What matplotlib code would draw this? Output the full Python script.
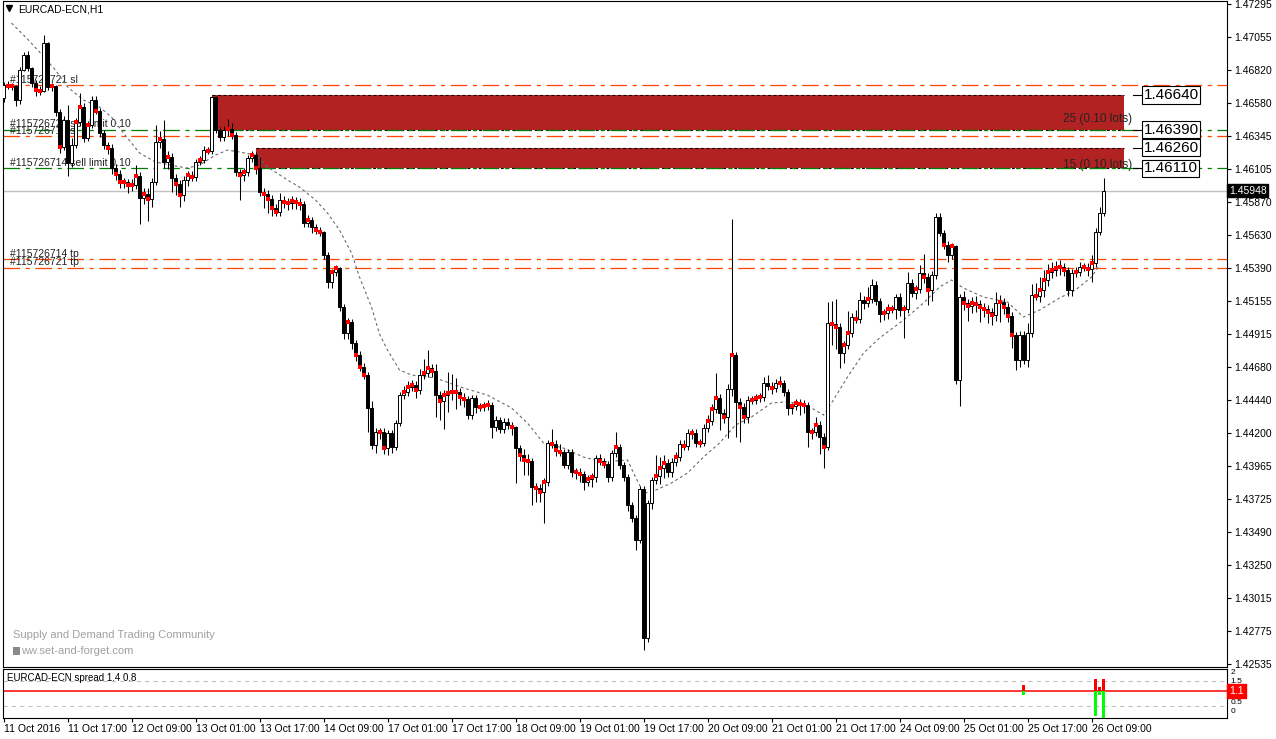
import matplotlib
matplotlib.use("Agg")
import matplotlib.pyplot as plt
from matplotlib.patches import Rectangle

plt.rcParams['font.family'] = ['Liberation Sans', 'DejaVu Sans']
plt.rcParams['lines.scale_dashes'] = False

# ---- values (EURCAD H1, one entry per bar) ----
first_open = 1.46617
closes = [
    1.46711, 1.46704, 1.46704, 1.46603, 1.46819, 1.46927, 1.46834, 1.46725, 1.46675, 1.46668, 1.47014, 1.46697, 1.46704, 1.46516, 1.46264, 1.46459,
    1.46148, 1.46278, 1.46444, 1.46552, 1.46329, 1.46423, 1.46603, 1.46523, 1.46365, 1.46278, 1.46257, 1.46112, 1.46069, 1.46011, 1.46011, 1.45990,
    1.45990, 1.46055, 1.45896, 1.45925, 1.45889, 1.46011, 1.46300, 1.46322, 1.46156, 1.46192, 1.46040, 1.45997, 1.45918, 1.46026, 1.46062, 1.46047,
    1.46156, 1.46170, 1.46242, 1.46235, 1.46624, 1.46386, 1.46336, 1.46386, 1.46394, 1.46350, 1.46083, 1.46062, 1.46083, 1.46184, 1.46206, 1.46112,
    1.45939, 1.45925, 1.45889, 1.45824, 1.45795, 1.45882, 1.45867, 1.45860, 1.45874, 1.45867, 1.45853, 1.45716, 1.45737, 1.45687, 1.45665, 1.45651,
    1.45485, 1.45290, 1.45362, 1.45391, 1.45110, 1.44922, 1.45001, 1.44850, 1.44764, 1.44677, 1.44620, 1.44382, 1.44115, 1.44208, 1.44208, 1.44093,
    1.44201, 1.44100, 1.44273, 1.44475, 1.44497, 1.44533, 1.44547, 1.44511, 1.44620, 1.44634, 1.44670, 1.44648, 1.44475, 1.44432, 1.44475, 1.44490,
    1.44497, 1.44497, 1.44461, 1.44447, 1.44331, 1.44454, 1.44389, 1.44389, 1.44396, 1.44403, 1.44245, 1.44296, 1.44230, 1.44281, 1.44259, 1.44245,
    1.44093, 1.44043, 1.44007, 1.43999, 1.43812, 1.43805, 1.43776, 1.43848, 1.44129, 1.44122, 1.44079, 1.44064, 1.43971, 1.44064, 1.43921, 1.43921,
    1.43906, 1.43848, 1.43870, 1.43885, 1.44021, 1.43999, 1.43978, 1.43885, 1.44057, 1.44100, 1.43971, 1.43885, 1.43682, 1.43588, 1.43429, 1.43797,
    1.42723, 1.43696, 1.43862, 1.43891, 1.43949, 1.43985, 1.43921, 1.43992, 1.44028, 1.44122, 1.44108, 1.44201, 1.44201, 1.44129, 1.44129, 1.44237,
    1.44288, 1.44374, 1.44454, 1.44345, 1.44317, 1.44518, 1.44764, 1.44425, 1.44389, 1.44317, 1.44439, 1.44439, 1.44454, 1.44461, 1.44562, 1.44540,
    1.44526, 1.44562, 1.44562, 1.44497, 1.44382, 1.44396, 1.44418, 1.44410, 1.44403, 1.44208, 1.44208, 1.44259, 1.44172, 1.44100, 1.44994, 1.44987,
    1.44966, 1.44778, 1.44836, 1.44922, 1.45038, 1.45023, 1.45160, 1.45139, 1.45168, 1.45269, 1.45153, 1.45059, 1.45067, 1.45095, 1.45095, 1.45182,
    1.45088, 1.45095, 1.45283, 1.45211, 1.45240, 1.45355, 1.45326, 1.45233, 1.45341, 1.45759, 1.45644, 1.45557, 1.45485, 1.45550, 1.44584, 1.45182,
    1.45139, 1.45117, 1.45139, 1.45132, 1.45110, 1.45095, 1.45074, 1.45052, 1.45139, 1.45146, 1.45110, 1.45045, 1.44908, 1.44728, 1.44908, 1.44728,
    1.44922, 1.45196, 1.45189, 1.45233, 1.45305, 1.45362, 1.45377, 1.45391, 1.45398, 1.45377, 1.45233, 1.45355, 1.45362, 1.45398, 1.45398, 1.45384,
    1.45427, 1.45651, 1.45788, 1.45948,
]
# wick lengths beyond the body, in pips
wick_up = [
    2, 3, 2, 1, 2, 2, 3, 1, 2, 3, 6, 1, 2, 1, 2, 3,
    11, 5, 3, 10, 3, 3, 3, 3, 2, 2, 2, 3, 3, 3, 3, 2,
    4, 8, 3, 4, 4, 3, 12, 6, 14, 4, 3, 3, 3, 3, 3, 3,
    2, 3, 3, 2, 1, 1, 2, 3, 7, 4, 2, 2, 3, 2, 3, 2,
    8, 3, 3, 3, 3, 5, 3, 3, 4, 3, 3, 2, 4, 2, 2, 2,
    1, 2, 2, 2, 1, 2, 3, 2, 2, 3, 3, 2, 5, 3, 3, 3,
    2, 2, 2, 2, 4, 4, 4, 3, 4, 10, 13, 3, 5, 3, 4, 15,
    13, 10, 3, 3, 2, 2, 2, 3, 3, 4, 2, 3, 2, 3, 3, 2,
    1, 2, 4, 4, 2, 3, 3, 3, 2, 10, 3, 4, 2, 2, 2, 3,
    3, 2, 3, 3, 2, 3, 2, 2, 2, 11, 2, 2, 2, 2, 2, 2,
    2, 2, 2, 15, 8, 6, 3, 3, 4, 3, 3, 3, 3, 3, 3, 3,
    4, 4, 18, 3, 3, 4, 98, 2, 3, 3, 3, 3, 3, 3, 4, 6,
    3, 3, 5, 2, 2, 2, 3, 3, 3, 2, 3, 6, 3, 3, 15, 16,
    18, 3, 3, 16, 3, 5, 6, 3, 9, 4, 3, 2, 3, 4, 3, 2,
    3, 3, 8, 3, 3, 6, 14, 3, 3, 3, 3, 2, 3, 2, 1, 2,
    4, 3, 4, 5, 3, 3, 3, 3, 8, 5, 3, 3, 3, 2, 3, 3,
    7, 8, 9, 9, 7, 6, 6, 5, 5, 3, 2, 3, 4, 4, 3, 3,
    6, 3, 4, 9,
]
wick_dn = [
    3, 2, 3, 4, 3, 1, 2, 3, 4, 3, 1, 2, 3, 3, 4, 2,
    9, 3, 2, 3, 3, 2, 2, 2, 3, 3, 4, 4, 4, 4, 4, 6,
    4, 3, 19, 4, 16, 6, 2, 4, 4, 5, 10, 8, 9, 4, 4, 3,
    3, 2, 2, 2, 2, 2, 3, 3, 4, 3, 3, 18, 4, 3, 3, 4,
    3, 10, 10, 6, 3, 3, 4, 5, 4, 5, 4, 3, 3, 4, 3, 3,
    3, 4, 4, 3, 3, 4, 4, 4, 4, 3, 3, 17, 3, 6, 5, 4,
    5, 4, 2, 2, 3, 3, 3, 6, 3, 3, 3, 4, 16, 14, 20, 12,
    5, 12, 6, 6, 3, 3, 4, 3, 3, 3, 8, 3, 3, 3, 3, 6,
    25, 4, 11, 10, 13, 10, 7, 22, 3, 3, 4, 3, 2, 3, 4, 5,
    6, 6, 3, 6, 4, 3, 3, 4, 3, 3, 3, 3, 4, 3, 7, 2,
    9, 3, 4, 3, 6, 7, 4, 4, 3, 3, 3, 3, 4, 3, 3, 2,
    3, 3, 3, 12, 4, 15, 5, 25, 25, 4, 4, 3, 3, 3, 3, 3,
    4, 3, 3, 3, 5, 4, 3, 8, 6, 11, 5, 3, 12, 15, 2, 15,
    16, 11, 7, 3, 3, 3, 3, 4, 3, 3, 3, 6, 4, 4, 3, 7,
    4, 20, 3, 3, 4, 3, 4, 11, 8, 3, 2, 3, 5, 3, 3, 19,
    5, 11, 5, 6, 11, 6, 8, 7, 4, 14, 5, 4, 9, 7, 5, 3,
    5, 3, 3, 4, 5, 4, 4, 4, 5, 4, 4, 4, 3, 3, 3, 5,
    9, 3, 2, 2,
]
# bars carrying the small red marker
dot_bars = [1, 2, 8, 9, 12, 14, 18, 19, 21, 23, 26, 28, 29, 30, 31, 32, 33, 35, 36, 39, 41, 43, 44, 46, 47, 49,
            51, 56, 57, 59, 60, 62, 63, 65, 66, 67, 68, 70, 71, 72, 73, 74, 76, 78, 79, 82, 83, 86, 88, 89, 90,
            94, 95, 100, 101, 102, 103, 105, 106, 107, 109, 110, 111, 112, 113, 114, 115, 119, 120, 121, 127,
            129, 130, 131, 133, 134, 135, 137, 138, 139, 143, 144, 146, 147, 149, 150, 153, 163, 164, 165, 168,
            170, 172, 174, 176, 177, 178, 180, 182, 184, 185, 187, 188, 189, 192, 194, 197, 198, 199, 200, 202,
            203, 205, 207, 208, 210, 211, 213, 216, 220, 221, 222, 225, 228, 230, 231, 235, 237, 240, 241, 242,
            243, 244, 245, 246, 247, 249, 250, 251, 252, 258, 259, 260, 261, 262, 263, 264, 265, 268, 270, 271, 272]
# moving average (grey dotted), sampled along the chart
ma_bars = [2, 6, 9, 13, 16, 20, 24, 27, 30, 34, 38, 43, 46, 49, 53, 56, 59, 63, 66, 71,
           74, 78, 81, 84, 87, 89, 92, 94, 96, 99, 102, 108, 115, 121, 127, 131, 135, 140, 145, 150,
           156, 158, 160, 162, 167, 171, 175, 179, 183, 187, 192, 195, 198, 202, 205, 207, 211, 215, 219, 225,
           230, 234, 237, 240, 245, 251, 255, 259, 264, 268, 272, 274]
ma_vals = [1.47158, 1.47043, 1.46949, 1.46819, 1.46697, 1.46603, 1.46552, 1.46480, 1.46365, 1.46221,
           1.46156, 1.46127, 1.46112, 1.46134, 1.46206, 1.46242, 1.46228, 1.46206, 1.46120, 1.46026,
           1.45975, 1.45882, 1.45788, 1.45665, 1.45500, 1.45326, 1.45110, 1.44915, 1.44800, 1.44656,
           1.44620, 1.44598, 1.44526, 1.44475, 1.44382, 1.44273, 1.44129, 1.44093, 1.44028, 1.43992,
           1.44007, 1.43884, 1.43769, 1.43776, 1.43841, 1.43913, 1.44028, 1.44129, 1.44259, 1.44317,
           1.44418, 1.44425, 1.44418, 1.44382, 1.44331, 1.44418, 1.44605, 1.44778, 1.44886, 1.45016,
           1.45139, 1.45254, 1.45305, 1.45247, 1.45182, 1.45146, 1.45038, 1.45088, 1.45175, 1.45233,
           1.45326, 1.45413]

time_labels = ['11 Oct 2016', '11 Oct 17:00', '12 Oct 09:00', '13 Oct 01:00', '13 Oct 17:00', '14 Oct 09:00',
               '17 Oct 01:00', '17 Oct 17:00', '18 Oct 09:00', '19 Oct 01:00', '19 Oct 17:00', '20 Oct 09:00',
               '21 Oct 01:00', '21 Oct 17:00', '24 Oct 09:00', '25 Oct 01:00', '25 Oct 17:00', '26 Oct 09:00']
price_ticks = [1.47295, 1.47055, 1.46820, 1.46580, 1.46345, 1.46105, 1.45870, 1.45630, 1.45390, 1.45155,
               1.44915, 1.44680, 1.44440, 1.44200, 1.43965, 1.43725, 1.43490, 1.43250, 1.43015, 1.42775, 1.42535]

order_levels = [1.46710, 1.46390, 1.46340, 1.46110, 1.45455, 1.45395]
order_names = ['#115726721 sl', '#115726721 sell limit 0.10', '#115726714 sl',
               '#115726714 sell limit 0.10', '#115726714 tp', '#115726721 tp']
order_colors = ['#FF4500', '#008000', '#FF4500', '#008000', '#FF4500', '#FF4500']

zone_start = [52, 63]
zone_end = [280, 280]
zone_low = [1.46390, 1.46110]
zone_high = [1.46640, 1.46260]
zone_text = ['25 (0.10 lots)', '15 (0.10 lots)']
zone_text_price = [1.46466, 1.46134]
price_tags = [1.46640, 1.46390, 1.46260, 1.46110]
bid = 1.45948

spread_bars = [255, 273, 274, 275]
spread_hi = [1.35, 1.6, 1.25, 1.6]
spread_lo = [0.95, 0.1, 0.95, 0.0]
spread_avg = 1.1
spread_scale = ['2', '1.5', '0.5', '0']
spread_scale_pos = [1.84, 1.5, 0.62, 0.26]

# ---- figure ----
W, H = 1276, 739
fig = plt.figure(figsize=(W / 100, H / 100), dpi=100)
fig.patch.set_facecolor('white')

left, right = 3 / W, 1227 / W
ax = fig.add_axes([left, (H - 667) / H, right - left, 666 / H])
sub = fig.add_axes([left, (H - 718) / H, right - left, 49 / H])
xlim = (-0.125, 305.875)

n = len(closes)
xs = list(range(n))
opens = [first_open] + closes[:-1]
highs = [max(o, c) + u * 1e-4 for o, c, u in zip(opens, closes, wick_up)]
lows = [min(o, c) - d * 1e-4 for o, c, d in zip(opens, closes, wick_dn)]

# supply zones
for s, e, lo, hi in zip(zone_start, zone_end, zone_low, zone_high):
    ax.add_patch(Rectangle((s, lo), e - s, hi - lo, facecolor='#B22222', edgecolor='none', zorder=1))
    ax.hlines([lo, hi], s, e, colors='black', linestyles=(0, (2, 2)), lw=0.8, zorder=1.2)
for e, tp, t in zip(zone_end, zone_text_price, zone_text):
    ax.text(e + 2.1, tp, t, fontsize=8.5, color='#222222', ha='right', va='center', zorder=1.3)

# order lines and their labels
for lvl, name, col in zip(order_levels, order_names, order_colors):
    ax.axhline(lvl, color=col, lw=0.9, linestyle=(0, (12, 4, 3, 4)), zorder=1.5)
    ax.text(1.6, lvl + 0.00003, name, fontsize=7.5, color='#222222', ha='left', va='bottom', zorder=1.6)
ax.axhline(bid, color='#C0C0C0', lw=1, zorder=1.4)

# moving average
ax.plot(ma_bars, ma_vals, color='#6A6A6A', lw=0.8, linestyle=(0, (2, 2)), zorder=2)

# candles
ax.vlines(xs, lows, highs, color='black', lw=0.75, zorder=4)
body_col = ['white' if c >= o else 'black' for o, c in zip(opens, closes)]
ax.bar(xs, [c - o for o, c in zip(opens, closes)], bottom=opens, width=0.55,
       color=body_col, edgecolor='black', linewidth=0.7, zorder=5)
ax.scatter(dot_bars, [closes[i] for i in dot_bars], marker='s', s=6, color='#FF0000',
           linewidths=0, zorder=6)

# price tags at the right end of the zones
for p in price_tags:
    ax.plot([282.4, 284.9], [p, p], color='black', lw=0.8, zorder=6, clip_on=False)
    ax.text(285.0, p, f'{p:.5f}', fontsize=11, color='black', ha='left', va='center', zorder=7,
            bbox=dict(boxstyle='square,pad=0.12', fc='white', ec='black', lw=0.8))

ax.set_xlim(*xlim)
ax.set_ylim(1.42514, 1.47317)
ax.set_xticks([])
ax.yaxis.tick_right()
ax.set_yticks(price_ticks)
ax.set_yticklabels([f'{p:.5f}' for p in price_ticks])
ax.tick_params(axis='y', direction='out', length=3, width=0.8, labelsize=7.5, pad=2)
for sp in ax.spines.values():
    sp.set_linewidth(0.8)

ax.text(1.0016, bid, f'{bid:.5f}', transform=ax.get_yaxis_transform(), fontsize=7.5, color='white',
        ha='left', va='center', zorder=8, bbox=dict(boxstyle='square,pad=0.15', fc='black', ec='black'))

# header and watermark
ax.plot([0.0045], [0.9895], marker='v', ms=4, color='black', transform=ax.transAxes)
ax.text(0.0123, 0.9865, 'EURCAD-ECN,H1', transform=ax.transAxes, fontsize=7.5, ha='left', va='center')
fig.text(13 / W, 1 - 635 / H, 'Supply and Demand Trading Community', fontsize=8, color='#A0A0A0',
         ha='left', va='center')
fig.patches.append(Rectangle((13 / W, 1 - 655 / H), 7 / W, 8 / H, transform=fig.transFigure,
                             facecolor='#8A8A8A', edgecolor='none'))
fig.text(21 / W, 1 - 651 / H, 'ww.set-and-forget.com', fontsize=8, color='#A0A0A0', ha='left', va='center')

# spread sub-window
sub.set_xlim(*xlim)
sub.set_ylim(0, 2)
sub.axhline(1.5, color='#C0C0C0', lw=0.8, linestyle=(0, (3, 3)))
sub.axhline(0.5, color='#C0C0C0', lw=0.8, linestyle=(0, (3, 3)))
sub.axhline(spread_avg, color='#FF0000', lw=1.1, zorder=2)
for b, hi, lo in zip(spread_bars, spread_hi, spread_lo):
    if hi > spread_avg:
        sub.bar(b, hi - spread_avg, bottom=spread_avg, width=0.7, color='#FF0000', zorder=3)
    if lo < spread_avg:
        sub.bar(b, spread_avg - lo, bottom=lo, width=0.7, color='#00FF00', zorder=3)
sub.text(0.0033, 1.62, 'EURCAD-ECN spread 1.4 0.8', transform=sub.get_yaxis_transform(),
         fontsize=7, ha='left', va='center')
sub.set_yticks([])
for val, y in zip(spread_scale, spread_scale_pos):
    sub.text(1.003, y, val, transform=sub.get_yaxis_transform(), fontsize=6, ha='left', va='center')
sub.text(1.0016, spread_avg, '1.1', transform=sub.get_yaxis_transform(), fontsize=7.5, color='white',
         ha='left', va='center', zorder=8, bbox=dict(boxstyle='square,pad=0.2', fc='#FF0000', ec='#FF0000'))
sub.set_xticks(list(range(0, 16 * len(time_labels), 16)))
sub.set_xticklabels(time_labels)
for lbl in sub.get_xticklabels():
    lbl.set_horizontalalignment('left')
sub.tick_params(axis='x', direction='out', length=3, width=0.8, labelsize=7.5, pad=1.5)
for sp in sub.spines.values():
    sp.set_linewidth(0.8)

fig.savefig('out.png', dpi=100)
